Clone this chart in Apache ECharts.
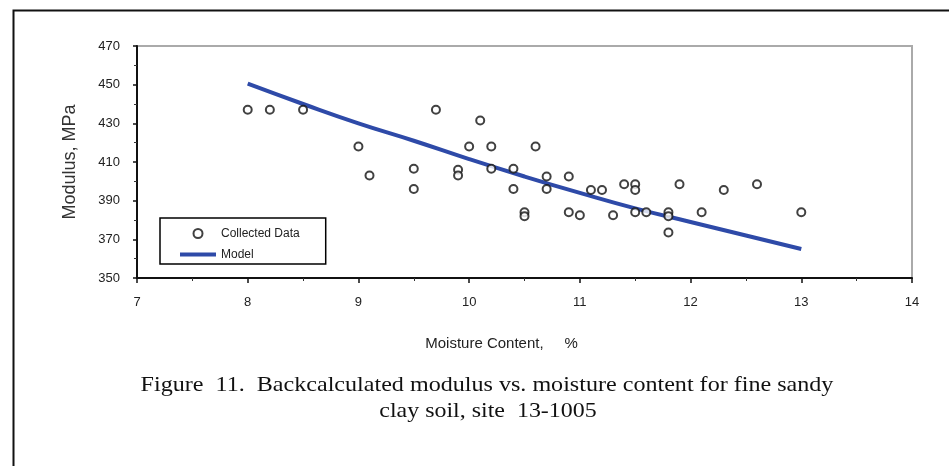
<!DOCTYPE html>
<html>
<head>
<meta charset="utf-8">
<script src="https://cdn.jsdelivr.net/npm/echarts@6/dist/echarts.min.js"></script>
<style>
  html, body { margin: 0; padding: 0; background: #fff; }
  #chart { width: 949px; height: 466px; }
</style>
</head>
<body>
<div id="chart"></div>
<script>
// collected data (moisture %, modulus MPa)
var moisture = [8.0, 8.2, 8.5, 9.0, 9.1, 9.5, 9.5, 9.7, 9.9, 9.9, 10.0, 10.1, 10.2, 10.2,
  10.4, 10.4, 10.5, 10.5, 10.6, 10.7, 10.7, 10.9, 10.9, 11.0, 11.1, 11.2, 11.3, 11.4,
  11.5, 11.5, 11.5, 11.6, 11.8, 11.8, 11.8, 11.9, 12.1, 12.3, 12.6, 13.0];
var modulus = [437, 437, 437, 418, 403, 406.5, 396, 437, 406, 403, 418, 431.5, 418, 406.5,
  406.5, 396, 384, 382, 418, 402.5, 396, 402.5, 384, 382.5, 395.5, 395.5, 382.5, 398.5,
  398.5, 395.5, 384, 384, 384, 382, 373.5, 398.5, 384, 395.5, 398.5, 384];

// model curve
var modelX = [8.0, 8.5, 9.0, 9.5, 10.0, 10.5, 11.0, 11.5, 12.0, 12.5, 13.0];
var modelY = [450.5, 440, 430, 421, 411.5, 402.5, 394, 386, 379, 372, 365];

var caption1 = 'Figure  11.  Backcalculated modulus vs. moisture content for fine sandy';
var caption2 = 'clay soil, site  13-1005';

var sans = '"Liberation Sans", Arial, sans-serif';
var serif = '"Liberation Serif", "Times New Roman", serif';
var blue = '#2e4aa8';

var scatterData = moisture.map(function (x, i) { return [x, modulus[i]]; });
var modelData = modelX.map(function (x, i) { return [x, modelY[i]]; });

var chart = echarts.init(document.getElementById('chart'));
chart.setOption({
  animation: false,
  backgroundColor: '#fff',
  grid: {
    left: 137, top: 46, right: 37, bottom: 188,
    show: true, borderColor: '#aaa', borderWidth: 2
  },
  legend: {
    orient: 'vertical',
    left: 160, top: 218,
    padding: [8, 26, 2, 20],
    itemWidth: 36, itemHeight: 9, itemGap: 6,
    borderColor: '#000', borderWidth: 1.5,
    textStyle: { fontFamily: sans, fontSize: 12, lineHeight: 15, color: '#222' },
    data: [
      { name: 'Collected Data', icon: 'emptyCircle' },
      { name: 'Model', icon: 'path://M0,0L36,0L36,4L0,4Z' }
    ]
  },
  xAxis: {
    type: 'value', min: 7, max: 14, interval: 1,
    name: 'Moisture Content,     %',
    nameLocation: 'middle', nameGap: 58,
    nameTextStyle: { fontFamily: sans, fontSize: 15, color: '#222', padding: [0, 46, 0, 0] },
    axisLine: { lineStyle: { color: '#111', width: 2 } },
    axisTick: { show: true, length: 5, lineStyle: { color: '#111', width: 1.5 } },
    minorTick: { show: true, splitNumber: 2, length: 3, lineStyle: { color: '#333' } },
    axisLabel: { margin: 18, fontFamily: sans, fontSize: 13, color: '#222' },
    splitLine: { show: false }
  },
  yAxis: {
    type: 'value', min: 350, max: 470, interval: 20,
    name: 'Modulus, MPa',
    nameLocation: 'middle', nameGap: 58,
    nameTextStyle: { fontFamily: sans, fontSize: 18, color: '#333' },
    axisLine: { lineStyle: { color: '#111', width: 2 } },
    axisTick: { show: true, length: 4, lineStyle: { color: '#111', width: 1.5 } },
    minorTick: { show: true, splitNumber: 2, length: 3, lineStyle: { color: '#333' } },
    axisLabel: { margin: 17, fontFamily: sans, fontSize: 13, color: '#222' },
    splitLine: { show: false }
  },
  series: [
    {
      name: 'Collected Data',
      type: 'scatter',
      symbol: 'emptyCircle',
      symbolSize: 8,
      itemStyle: { color: '#111', borderWidth: 1.6 },
      data: scatterData,
      z: 3
    },
    {
      name: 'Model',
      type: 'line',
      smooth: true,
      showSymbol: false,
      symbol: 'none',
      lineStyle: { color: blue, width: 4 },
      itemStyle: { color: blue },
      data: modelData,
      z: 2
    }
  ],
  graphic: [
    {
      type: 'rect', left: 11, top: 8, silent: true,
      shape: { width: 1000, height: 500 },
      style: { fill: 'none', stroke: '#111', lineWidth: 2 }
    },
    {
      type: 'text', x: 487, y: 385, scaleX: 1.147,
      style: {
        text: caption1, fontFamily: serif, fontSize: 21, fill: '#111',
        align: 'center', verticalAlign: 'middle'
      }
    },
    {
      type: 'text', x: 488, y: 411, scaleX: 1.14,
      style: {
        text: caption2, fontFamily: serif, fontSize: 21, fill: '#111',
        align: 'center', verticalAlign: 'middle'
      }
    }
  ]
});
</script>
</body>
</html>
